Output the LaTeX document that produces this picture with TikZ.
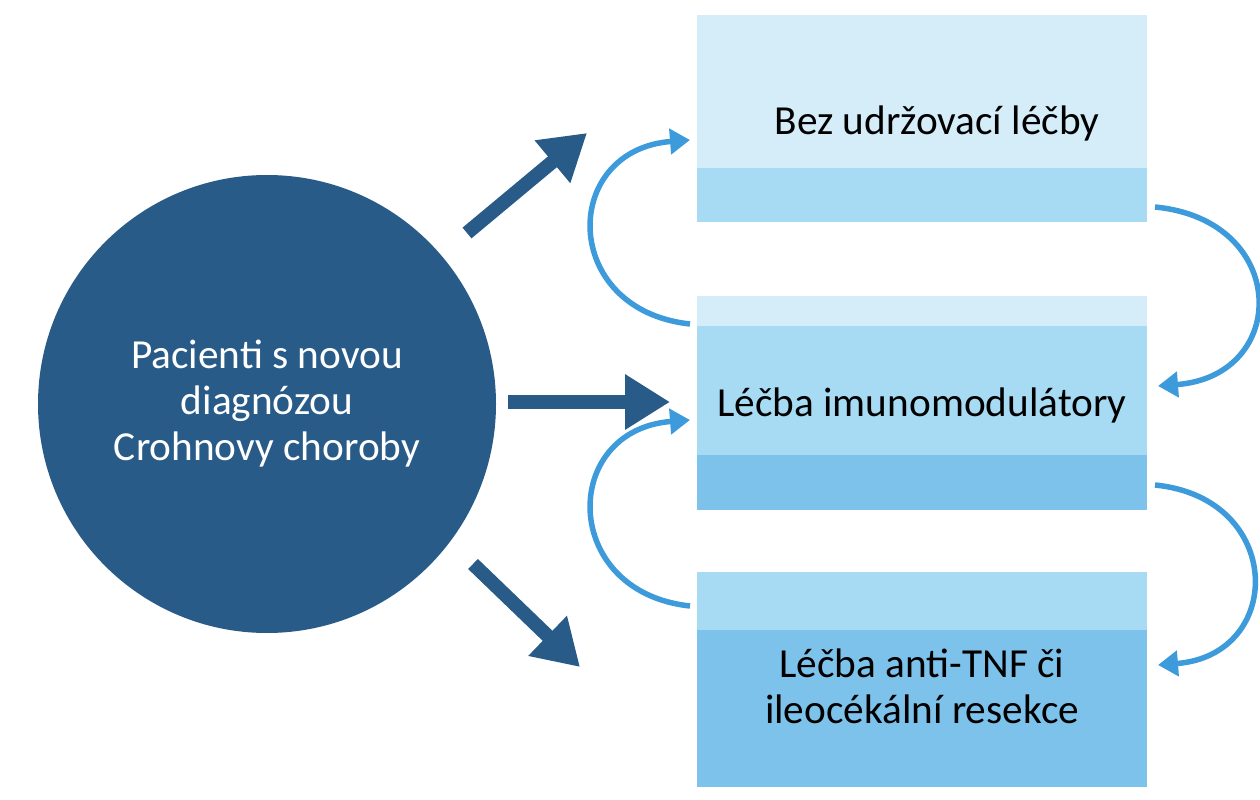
\documentclass[tikz,border=0pt]{standalone}
\usepackage{fontspec}
\setmainfont{Carlito}
\usetikzlibrary{arrows.meta}
\definecolor{dk}{HTML}{285B88}
\definecolor{c1}{HTML}{D4EDF9}
\definecolor{c2}{HTML}{A7DAF3}
\definecolor{c3}{HTML}{7CC2EA}
\definecolor{lb}{HTML}{3D9BDB}
\begin{document}
\begin{tikzpicture}[x=0.02cm,y=-0.02cm,
 big/.style={dk,line width=0.28cm,-{Triangle[length=0.9cm,width=1.05cm]}},
 cur/.style={lb,line width=0.11cm,-{Triangle[length=0.4cm,width=0.5cm]}},
 txt/.style={font=\fontsize{23.5}{26.2}\selectfont,align=center}]
\useasboundingbox (0,0) rectangle (1260,800);
% circle
\fill[dk] (267,404) circle (229);
\node[txt,white] (p) at (267,404) {Pacienti s novou\\diagnózou\\Crohnovy choroby};
% box1
\fill[c1] (697,15) rectangle (1147,168);
\fill[c2] (697,168) rectangle (1147,222);
\node[txt] (b1) at (937,123) {Bez udržovací léčby};
% box2
\fill[c1] (697,296) rectangle (1147,326);
\fill[c2] (697,326) rectangle (1147,455);
\fill[c3] (697,455) rectangle (1147,510);
\node[txt] (b2) at (922,405) {Léčba imunomodulátory};
% box3
\fill[c2] (697,572) rectangle (1147,630);
\fill[c3] (697,630) rectangle (1147,787);
\node[txt] (b3) at (922,686) {Léčba anti-TNF či\\ileocékální resekce};
% big arrows
\coordinate (a1s) at (467,233); \coordinate (a1e) at (587,133);
\coordinate (a2s) at (508,402); \coordinate (a2e) at (670,402);
\coordinate (a3s) at (473,564); \coordinate (a3e) at (580,667);
\draw[big] (a1s) -- (a1e);
\draw[big] (a2s) -- (a2e);
\draw[big] (a3s) -- (a3e);
% curved arrows
\coordinate (l1s) at (690,324); \coordinate (l1e) at (690,140);
\coordinate (l2s) at (690,606); \coordinate (l2e) at (690,420);
\coordinate (r1s) at (1155,207); \coordinate (r1e) at (1158,386);
\coordinate (r2s) at (1155,485); \coordinate (r2e) at (1158,665);
\draw[cur] (l1s) .. controls (560,310) and (560,150) .. (l1e);
\draw[cur] (l2s) .. controls (560,592) and (560,430) .. (l2e);
\draw[cur] (r1s) .. controls (1290,220) and (1290,376) .. (r1e);
\draw[cur] (r2s) .. controls (1285,498) and (1285,655) .. (r2e);
\end{tikzpicture}
\end{document}
